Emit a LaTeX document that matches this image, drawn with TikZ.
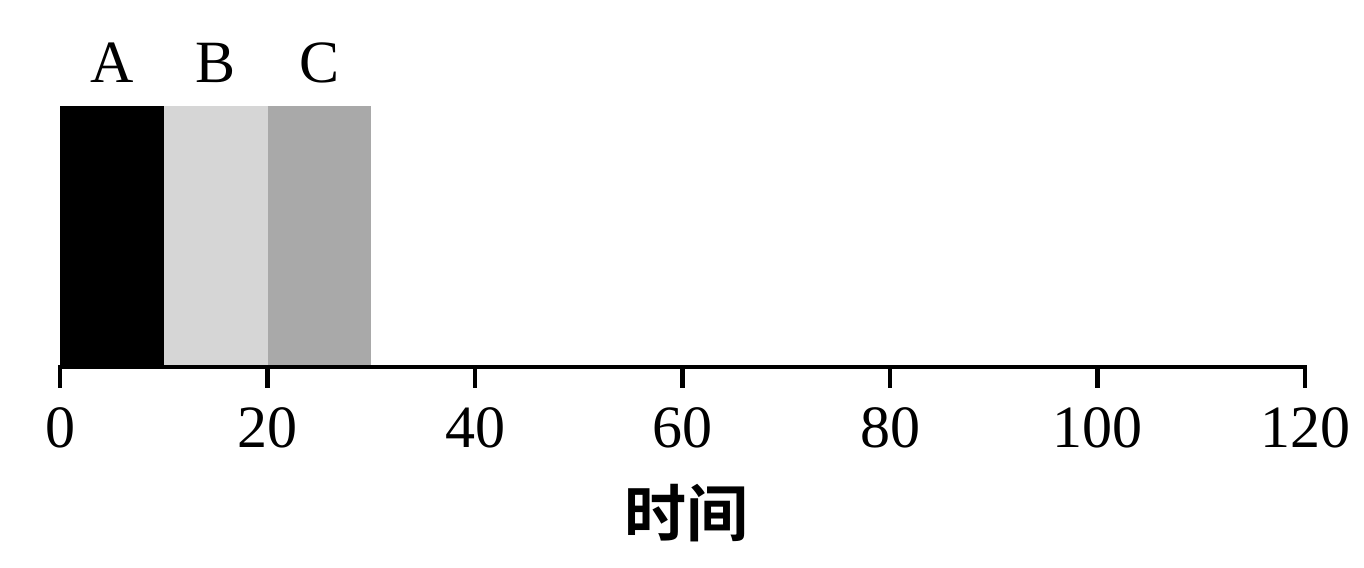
\documentclass[tikz,border=0pt]{standalone}
\usepackage{fontspec}
\setmainfont{Liberation Serif}
\newfontfamily\cjk{Noto Sans CJK SC}[BoldFont={Noto Sans CJK SC Bold}]
\begin{document}
\begin{tikzpicture}[x=1pt,y=-1pt,
  lbl/.style={font=\fontsize{60}{60}\selectfont, inner sep=0pt, anchor=base},
  barbox/.style={draw=none, inner sep=0pt, minimum width=103.75pt, minimum height=261.5pt, anchor=north west},
  axisline/.style={line width=4.3pt},
  tickmark/.style={line width=4.3pt}]
\useasboundingbox (0,0) rectangle (1364,567);
% bars
\node[barbox, fill=black] (barA) at (60,105.5) {};
\node[barbox, fill={rgb,255:red,214;green,214;blue,214}] (barB) at (163.75,105.5) {};
\node[barbox, fill={rgb,255:red,169;green,169;blue,169}] (barC) at (267.5,105.5) {};
% bar labels
\node[lbl] (lA) at (112,83) {A};
\node[lbl] (lB) at (215.6,83) {B};
\node[lbl] (lC) at (319.4,83) {C};
% axis
\coordinate (ax0) at (58,367);
\coordinate (ax1) at (1307,367);
\draw[axisline] (ax0) -- (ax1);
\foreach \v [count=\i] in {0,20,40,60,80,100,120}{
  \coordinate (t\i) at ({60+\v*10.375},367);
  \coordinate (tb\i) at ({60+\v*10.375},388);
  \draw[tickmark] (t\i) -- (tb\i);
  \node[lbl] (n\i) at ({60+\v*10.375},447) {\v};
}
\node[font=\cjk\bfseries\fontsize{62}{62}\selectfont, inner sep=0pt] (title) at (686,513) {时间};
\end{tikzpicture}
\end{document}
